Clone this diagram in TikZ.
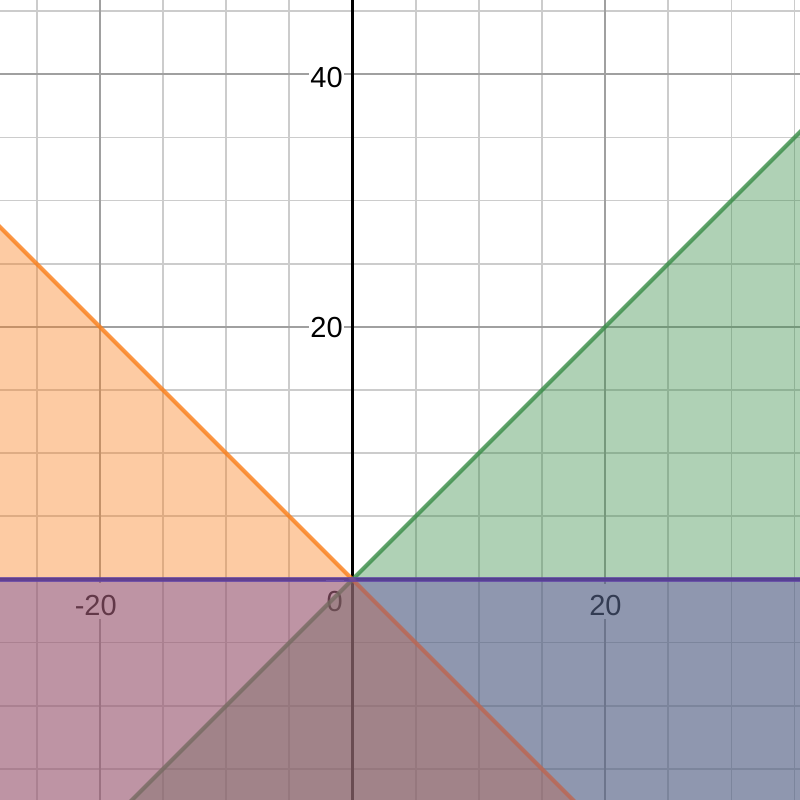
\documentclass[tikz,border=0pt]{standalone}
\usepackage{fontspec}
\setmainfont{Liberation Sans}
\definecolor{dgreen}{HTML}{388C46}
\definecolor{dorange}{HTML}{FA7E19}
\definecolor{dpurple}{HTML}{6042A6}
\definecolor{gridminor}{HTML}{CCCCCC}
\definecolor{gridmajor}{HTML}{A0A0A0}
\tikzset{
  minorgrid/.style={draw=gridminor, line width=1.3pt},
  majorgrid/.style={draw=gridmajor, line width=1.4pt},
  axisline/.style={draw=black, line width=2.25pt},
  region/.style={fill opacity=0.4},
  boundary/.style={line width=3.1pt, draw opacity=0.8},
  ticklabel/.style={fill=white, inner xsep=0.75pt, inner ysep=0pt,
    text height=24pt, text depth=2.6pt,
    font=\fontsize{21.75pt}{26pt}\selectfont},
}
\begin{document}
\begin{tikzpicture}[x=9.4725pt,y=9.4725pt]
  \def\xmin{-27.91}\def\xmax{35.43}\def\ymin{-17.46}\def\ymax{45.88}
  \useasboundingbox (\xmin,\ymin) rectangle (\xmax,\ymax);
  \clip (\xmin,\ymin) rectangle (\xmax,\ymax);
  \fill[white] (\xmin,\ymin) rectangle (\xmax,\ymax);
  % grid
  \foreach \gx in {-25,-15,-10,-5,5,10,15,25,30,35}
    \draw[minorgrid] (\gx,\ymin) -- (\gx,\ymax);
  \foreach \gy in {-15,-10,-5,5,10,15,25,30,35,45}
    \draw[minorgrid] (\xmin,\gy) -- (\xmax,\gy);
  \foreach \gx in {-20,20}
    \draw[majorgrid] (\gx,\ymin) -- (\gx,\ymax);
  \foreach \gy in {20,40}
    \draw[majorgrid] (\xmin,\gy) -- (\xmax,\gy);
  % axes
  \coordinate (o) at (0,0);
  \coordinate (ytop) at (0,\ymax);
  \coordinate (ybot) at (0,\ymin);
  \coordinate (xl) at (\xmin,0);
  \coordinate (xr) at (\xmax,0);
  \draw[axisline] (ybot) -- (ytop);
  \draw[axisline] (xl) -- (xr);
  % tick labels
  \node[ticklabel, anchor=base east] (ly40) at (-0.673,38.99) {40};
  \node[ticklabel, anchor=base east] (ly20) at (-0.673,19.18) {20};
  \node[ticklabel, anchor=base east] (l0) at (-0.673,-2.57) {0};
  \node[ticklabel, anchor=base] (lxm20) at (-20.33,-2.85) {-20};
  \node[ticklabel, anchor=base] (lx20) at (20.03,-2.89) {20};
  % green region y <= x
  \coordinate (g1) at (-17.46,-17.46);
  \coordinate (g2) at (\xmax,\ymin);
  \coordinate (g3) at (\xmax,\xmax);
  \fill[dgreen, region] (g1) -- (g2) -- (g3) -- cycle;
  \draw[dgreen, boundary] (-18,-18) -- (36,36);
  % orange region y <= -x
  \coordinate (r1) at (\xmin,27.91);
  \coordinate (r2) at (\xmin,\ymin);
  \coordinate (r3) at (17.46,-17.46);
  \fill[dorange, region] (r1) -- (r2) -- (r3) -- cycle;
  \draw[dorange, boundary] (-28.5,28.5) -- (18,-18);
  % purple region y <= 0
  \fill[dpurple, region] (\xmin,\ymin) rectangle (\xmax,0);
  \draw[dpurple, boundary, line width=3.3pt] (xl) -- (xr);
\end{tikzpicture}
\end{document}
